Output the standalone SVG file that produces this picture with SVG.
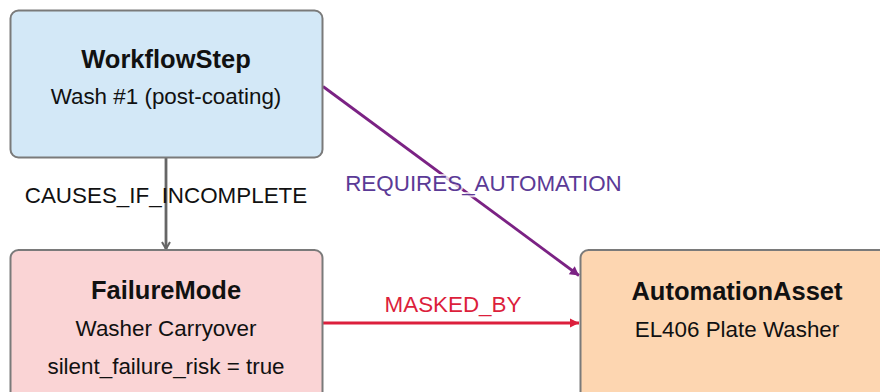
<svg xmlns="http://www.w3.org/2000/svg" width="880" height="392" viewBox="0 0 880 392">
<style>
  .box { stroke: #7a7a7a; stroke-width: 2; }
  .title { font-family: "Liberation Sans", Arial, sans-serif; font-weight: bold; font-size: 25.5px; fill: #111; text-anchor: middle; }
  .sub { font-family: "Liberation Sans", Arial, sans-serif; font-size: 22.4px; fill: #111; text-anchor: middle; }
  .lbl { font-family: "Liberation Sans", Arial, sans-serif; font-size: 22.4px; text-anchor: middle; }
  .edge { fill: none; stroke-width: 2.8; }
</style>
<defs>
  <marker id="arrGray" markerWidth="10" markerHeight="10" refX="8" refY="5" orient="auto" markerUnits="userSpaceOnUse">
    <path d="M1,1 L8,5 L1,9" fill="none" stroke="#666" stroke-width="2"/>
  </marker>
  <marker id="arrPurple" markerWidth="12" markerHeight="12" refX="10" refY="6" orient="auto" markerUnits="userSpaceOnUse">
    <path d="M1,1 L10,6 L1,11 Z" fill="#7b2284"/>
  </marker>
  <marker id="arrRed" markerWidth="12" markerHeight="12" refX="10" refY="6" orient="auto" markerUnits="userSpaceOnUse">
    <path d="M1,1.5 L10,6 L1,10.5 Z" fill="#dc1f3c"/>
  </marker>
</defs>
<rect width="880" height="392" fill="#ffffff"/>
<g id="connectors">
  <g id="e-causes">
    <line class="edge" x1="166" y1="158" x2="166" y2="249" stroke="#666" stroke-width="2" marker-end="url(#arrGray)"/>
    <text class="lbl" x="166" y="202.5" fill="#111">CAUSES_IF_INCOMPLETE</text>
  </g>
  <g id="e-requires">
    <line class="edge" x1="323" y1="86.5" x2="579" y2="275.5" stroke="#7b2284" marker-end="url(#arrPurple)"/>
    <text class="lbl" x="483.5" y="190.5" fill="#5b3a96" stroke="#ffffff" stroke-opacity="0.75" stroke-width="4" paint-order="stroke" stroke-linejoin="round">REQUIRES_AUTOMATION</text>
  </g>
  <g id="e-masked">
    <line class="edge" x1="323" y1="323" x2="579" y2="323" stroke="#dc1f3c" marker-end="url(#arrRed)"/>
    <text class="lbl" x="453" y="311.5" fill="#dc1f3c">MASKED_BY</text>
  </g>
</g>
<g id="node-workflowstep">
  <rect class="box" x="10.5" y="10.5" width="312" height="147" rx="8" fill="#d3e8f7"/>
  <text class="title" x="166" y="68">WorkflowStep</text>
  <text class="sub" x="166" y="104">Wash #1 (post-coating)</text>
</g>
<g id="node-failuremode">
  <rect class="box" x="10.5" y="250" width="312" height="160" rx="8" fill="#fad4d5"/>
  <text class="title" x="166" y="299">FailureMode</text>
  <text class="sub" x="166" y="336">Washer Carryover</text>
  <text class="sub" x="166" y="373.5">silent_failure_risk = true</text>
</g>
<g id="node-automationasset">
  <rect class="box" x="580.5" y="250" width="312" height="160" rx="8" fill="#fdd6b1"/>
  <text class="title" x="737" y="300">AutomationAsset</text>
  <text class="sub" x="737" y="337">EL406 Plate Washer</text>
</g>
</svg>
